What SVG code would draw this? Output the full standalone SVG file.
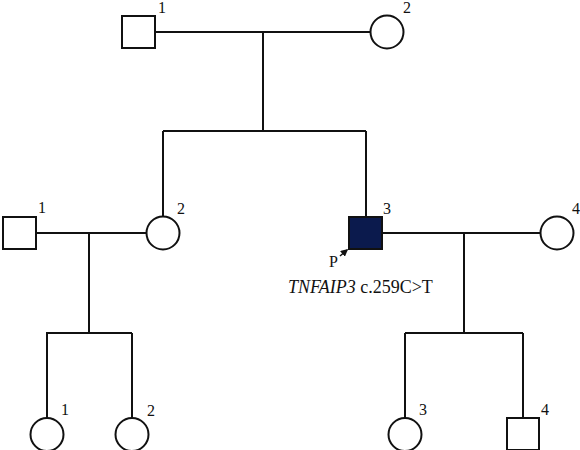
<svg xmlns="http://www.w3.org/2000/svg" width="580" height="450" viewBox="0 0 580 450">
<style>
.ln{stroke:#111;stroke-width:2;fill:none}
.nd{stroke:#111;stroke-width:2;fill:#fff}
.lb{font-family:"Liberation Serif",serif;font-size:16px;fill:#111}
.tx{font-family:"Liberation Serif",serif;font-size:18px;fill:#111}
</style>
<defs>
<marker id="ah" viewBox="0 0 10 10" refX="8" refY="5" markerWidth="5" markerHeight="5" orient="auto">
<path d="M0,0 L10,5 L0,10 z" fill="#111"/>
</marker>
</defs>
<rect width="580" height="450" fill="#fff"/>
<g id="connectors">
<line class="ln" x1="155" y1="32" x2="370" y2="32"/>
<line class="ln" x1="263" y1="32" x2="263" y2="131"/>
<line class="ln" x1="163" y1="131" x2="366" y2="131"/>
<line class="ln" x1="163" y1="131" x2="163" y2="217"/>
<line class="ln" x1="366" y1="131" x2="366" y2="217"/>
<line class="ln" x1="36" y1="233" x2="146" y2="233"/>
<line class="ln" x1="89" y1="233" x2="89" y2="333"/>
<line class="ln" x1="46" y1="333" x2="132" y2="333"/>
<line class="ln" x1="47" y1="333" x2="47" y2="418"/>
<line class="ln" x1="132" y1="333" x2="132" y2="418"/>
<line class="ln" x1="382" y1="233" x2="540" y2="233"/>
<line class="ln" x1="464" y1="233" x2="464" y2="333"/>
<line class="ln" x1="405" y1="333" x2="523" y2="333"/>
<line class="ln" x1="405" y1="333" x2="405" y2="418"/>
<line class="ln" x1="523" y1="333" x2="523" y2="418"/>
</g>
<g id="I-1"><rect class="nd" x="122" y="16" width="33" height="32"/><text class="lb" x="158" y="13">1</text></g>
<g id="I-2"><circle class="nd" cx="387" cy="32" r="16.5"/><text class="lb" x="403" y="13">2</text></g>
<g id="II-1"><rect class="nd" x="3" y="217" width="33" height="32"/><text class="lb" x="38" y="213">1</text></g>
<g id="II-2"><circle class="nd" cx="163" cy="233" r="16.5"/><text class="lb" x="177" y="214">2</text></g>
<g id="II-3"><rect x="349" y="217" width="33" height="32" fill="#0b1a4d" stroke="#111" stroke-width="2"/><text class="lb" x="383" y="214">3</text>
<text class="lb" x="329" y="267">P</text>
<line x1="340" y1="256" x2="347" y2="250" stroke="#111" stroke-width="1.5" marker-end="url(#ah)"/>
<text class="tx" x="288" y="293"><tspan font-style="italic">TNFAIP3</tspan> c.259C&gt;T</text></g>
<g id="II-4"><circle class="nd" cx="557" cy="233" r="16.5"/><text class="lb" x="572" y="214">4</text></g>
<g id="III-1"><circle class="nd" cx="47" cy="434.5" r="16.5"/><text class="lb" x="61" y="415">1</text></g>
<g id="III-2"><circle class="nd" cx="132" cy="434.5" r="16.5"/><text class="lb" x="147" y="416">2</text></g>
<g id="III-3"><circle class="nd" cx="405" cy="434.5" r="16.5"/><text class="lb" x="419" y="415">3</text></g>
<g id="III-4"><rect class="nd" x="507" y="418" width="32" height="32"/><text class="lb" x="541" y="415">4</text></g>
</svg>
